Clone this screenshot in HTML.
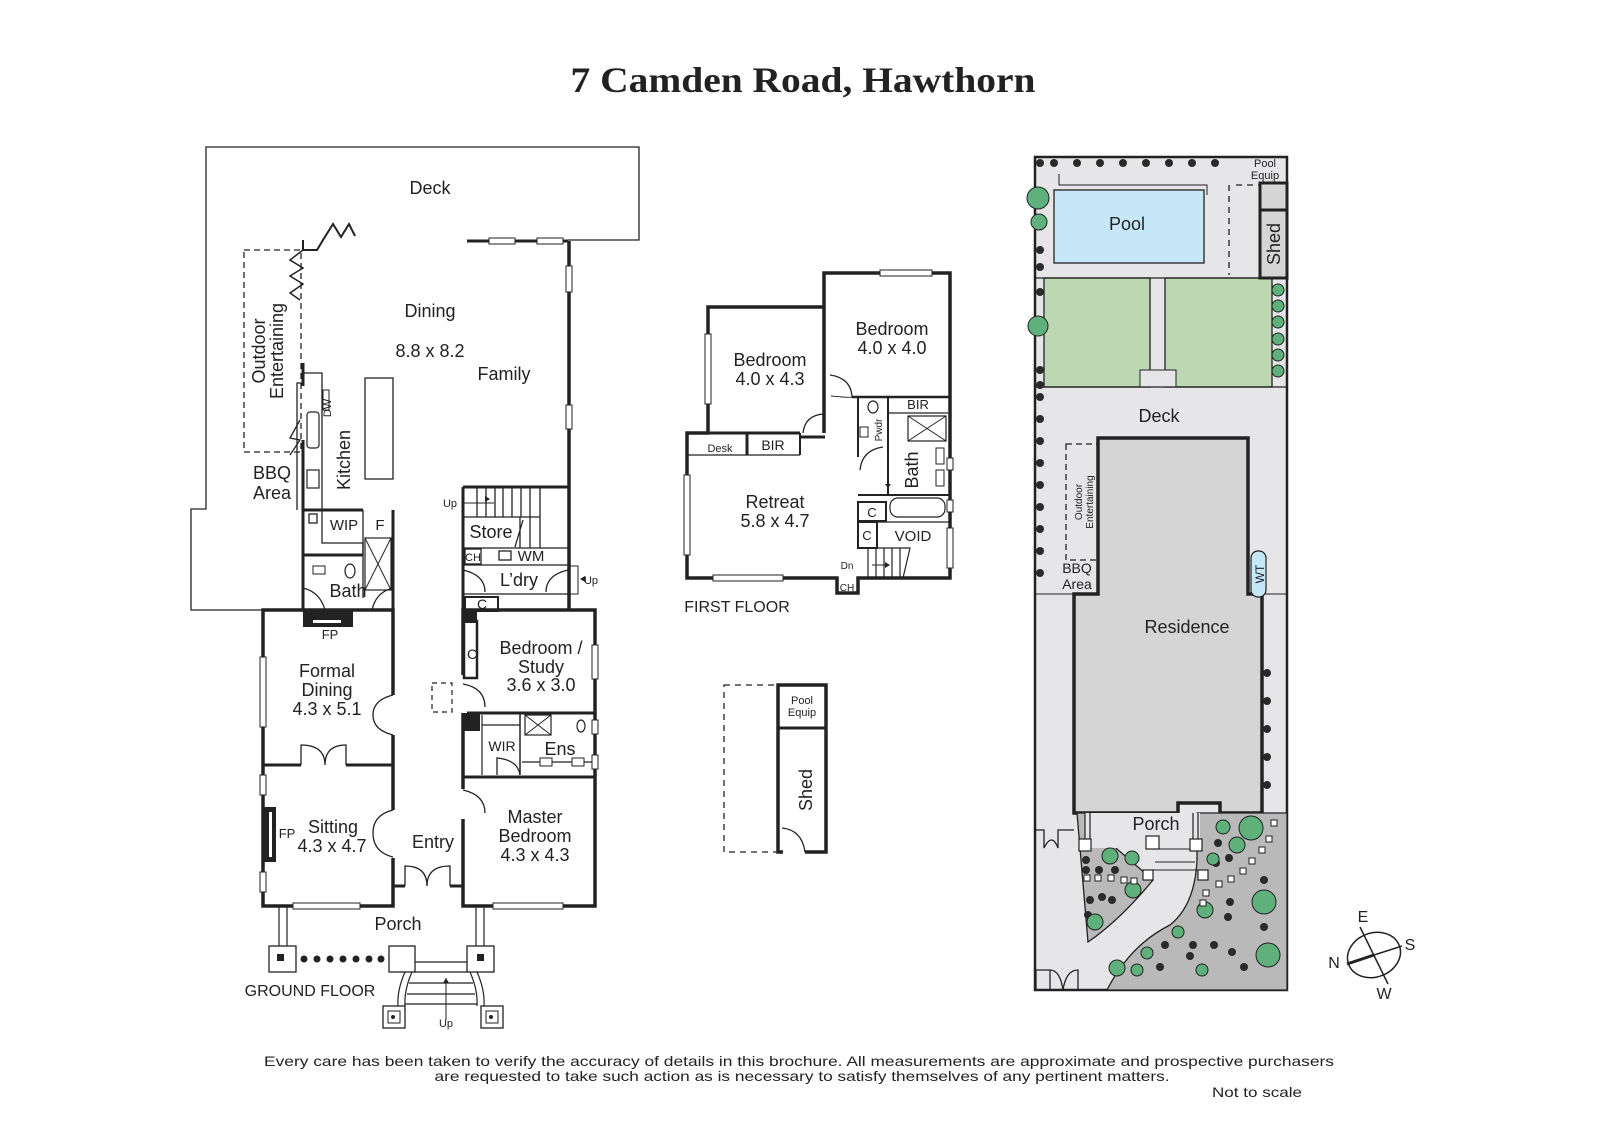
<!DOCTYPE html>
<html><head><meta charset="utf-8"><style>
html,body{margin:0;padding:0;background:#fff;}
svg{display:block;}
text{font-family:"Liberation Sans",sans-serif;fill:#222;}
</style></head><body>
<svg width="1600" height="1131" viewBox="0 0 1600 1131" xmlns="http://www.w3.org/2000/svg">
<!-- Title -->
<text x="803" y="92" text-anchor="middle" style="font-family:'Liberation Serif',serif;font-weight:bold;font-size:36px" textLength="465" lengthAdjust="spacingAndGlyphs">7 Camden Road, Hawthorn</text>

<!-- ================= GROUND FLOOR ================= -->
<g fill="none" stroke="#222">
<!-- deck outline -->
<polyline points="568,240 639,240 639,147 206,147 206,509 191,509 191,610 262,610" stroke-width="1.3"/>
<!-- zigzags -->
<polyline points="303,240 303,250 317,250 323,240 333,224 341,237 349,224 355,236" stroke-width="2"/>
<polyline points="303,250 290,260 303,268 290,276 303,284 290,293 300,300" stroke-width="1.5"/>
<polyline points="300,420 290,438 300,440 290,455" stroke-width="1.3"/>
<!-- dashed outdoor -->
<rect x="244" y="250" width="57" height="202" stroke-dasharray="6,4" stroke-width="1.3"/>
<!-- top window wall -->
<line x1="467" y1="241" x2="568" y2="241" stroke-width="3"/>
<rect x="489" y="238" width="26" height="6" fill="#fff" stroke-width="1"/>
<rect x="537" y="238" width="26" height="6" fill="#fff" stroke-width="1"/>
<!-- family right wall -->
<line x1="569" y1="241" x2="569" y2="610" stroke-width="3.5"/>
<rect x="566" y="266" width="6" height="26" fill="#fff" stroke-width="1"/>
<rect x="566" y="405" width="6" height="24" fill="#fff" stroke-width="1"/>
<!-- kitchen -->
<line x1="303" y1="363" x2="303" y2="386" stroke-width="3"/>
<polyline points="303,373 322,373 322,510" stroke-width="1.3"/>
<polyline points="303,383 297,383 297,510" stroke-width="1.3"/>
<line x1="303" y1="440" x2="303" y2="610" stroke-width="3"/>
<rect x="323" y="390" width="6" height="20" stroke-width="1"/>
<rect x="307" y="412" width="12" height="36" rx="3" stroke-width="1.2"/>
<rect x="307" y="470" width="12" height="18" stroke-width="1.2"/>
<rect x="365" y="378" width="28" height="101" stroke-width="1.3"/>
<!-- WIP / F / bath -->
<line x1="303" y1="510" x2="363" y2="510" stroke-width="3"/>
<polyline points="322,510 322,543 363,543 363,555" stroke-width="1.3"/>
<line x1="303" y1="555" x2="363" y2="555" stroke-width="3"/>
<line x1="363" y1="510" x2="363" y2="598" stroke-width="1.3"/>
<line x1="393" y1="510" x2="393" y2="610" stroke-width="3"/>
<rect x="365" y="538" width="26" height="52" stroke-width="1.2"/>
<path d="M365,538 L391,590 M391,538 L365,590" stroke-width="1"/>
<rect x="309" y="514" width="8" height="9" stroke-width="1.3"/>
<rect x="313" y="566" width="12" height="8" stroke-width="1"/>
<ellipse cx="350" cy="571" rx="5" ry="7" stroke-width="1.2"/>
<path d="M303,588 Q320,592 325,610" stroke-width="1.2"/>
<path d="M393,588 Q376,592 372,610" stroke-width="1.2"/>
<!-- Formal dining / sitting -->
<rect x="263" y="610" width="130" height="296" stroke-width="3.5"/>
<line x1="263" y1="765" x2="301" y2="765" stroke-width="3"/>
<line x1="346" y1="765" x2="393" y2="765" stroke-width="3"/>
<path d="M301,765 V745 Q325,745 325,765 M346,765 V745 Q325,745 325,765" stroke-width="1.3"/>
<rect x="389" y="695" width="8" height="40" fill="#fff" stroke="none"/>
<path d="M393,695 Q373,700 373,715 Q373,730 393,735" stroke-width="1.3"/>
<rect x="389" y="810" width="8" height="48" fill="#fff" stroke="none"/>
<path d="M393,810 Q373,815 373,833 Q373,852 393,857" stroke-width="1.3"/>
<rect x="260" y="657" width="6" height="70" fill="#fff" stroke-width="1"/>
<rect x="260" y="775" width="6" height="20" fill="#fff" stroke-width="1"/>
<rect x="260" y="872" width="6" height="20" fill="#fff" stroke-width="1"/>
<rect x="293" y="903" width="67" height="6" fill="#fff" stroke-width="1"/>
<!-- Right block -->
<rect x="463" y="610" width="132" height="296" stroke-width="3.5"/>
<line x1="463" y1="713" x2="595" y2="713" stroke-width="3"/>
<line x1="463" y1="777" x2="595" y2="777" stroke-width="3"/>
<rect x="459" y="675" width="8" height="38" fill="#fff" stroke="none"/>
<path d="M463,684 Q485,688 485,707" stroke-width="1.3"/>
<rect x="459" y="789" width="8" height="30" fill="#fff" stroke="none"/>
<path d="M463,790 Q485,795 485,813" stroke-width="1.3"/>
<rect x="464" y="621" width="13" height="57" stroke-width="2.5"/>
<line x1="482" y1="715" x2="482" y2="775" stroke-width="1.2"/>
<line x1="482" y1="725" x2="520" y2="725" stroke-width="1.2"/>
<path d="M497,775 V758 Q518,760 520,775" stroke-width="1.3"/>
<line x1="520" y1="713" x2="520" y2="775" stroke-width="1.5"/>
<rect x="525" y="715" width="26" height="20" stroke-width="1.2"/>
<path d="M525,715 L551,735 M551,715 L525,735" stroke-width="1"/>
<ellipse cx="581" cy="726" rx="4" ry="6" stroke-width="1.2"/>
<line x1="522" y1="762" x2="593" y2="762" stroke-width="1.2"/>
<rect x="540" y="758" width="12" height="8" fill="#fff" stroke-width="1"/>
<rect x="572" y="758" width="12" height="8" fill="#fff" stroke-width="1"/>
<rect x="592" y="645" width="6" height="34" fill="#fff" stroke-width="1"/>
<rect x="592" y="720" width="6" height="14" fill="#fff" stroke-width="1"/>
<rect x="592" y="755" width="6" height="14" fill="#fff" stroke-width="1"/>
<rect x="493" y="903" width="70" height="6" fill="#fff" stroke-width="1"/>
<rect x="432" y="683" width="20" height="29" stroke-dasharray="5,4" stroke-width="1.2"/>
<!-- entry double door -->
<line x1="393" y1="886" x2="405" y2="886" stroke-width="3"/>
<line x1="450" y1="886" x2="463" y2="886" stroke-width="3"/>
<path d="M405,886 V866 Q427,866 427,886 M450,886 V866 Q427,866 427,886" stroke-width="1.3"/>
<!-- stairs / store / laundry -->
<line x1="463" y1="487" x2="568" y2="487" stroke-width="3"/>
<line x1="463" y1="487" x2="463" y2="610" stroke-width="3"/>
<path d="M463,517 H540 M463,548 H568 M463,565 H568 M477,487 V517 M486,487 V517 M495,487 V517 M503,487 V517 M512,487 V517 M521,487 V517 M530,487 V517 M520,517 V548 M530,517 V548 M540,487 V548 M523,520 L515,547" stroke-width="1.3"/>
<line x1="463" y1="503" x2="494" y2="503" stroke-width="1"/>
<rect x="465" y="549" width="16" height="15" stroke-width="1.3"/>
<rect x="499" y="551" width="12" height="9" stroke-width="1.3"/>
<path d="M463,570 Q485,575 485,592" stroke-width="1.3"/>
<path d="M568,570 Q546,575 546,592" stroke-width="1.3"/>
<polyline points="568,566 578,566 578,594 568,594" stroke-width="1"/>
<line x1="464" y1="594" x2="568" y2="594" stroke-width="1.3"/>
<rect x="465" y="597" width="33" height="14" stroke-width="2"/>
<!-- porch -->
<path d="M279,906 V946 M287,906 V946 M476,906 V946 M484,906 V946" stroke-width="1.2"/>
<rect x="269" y="946" width="27" height="26" fill="#fff" stroke-width="1.3"/>
<rect x="389" y="946" width="26" height="26" fill="#fff" stroke-width="1.3"/>
<rect x="467" y="946" width="27" height="26" fill="#fff" stroke-width="1.3"/>
<path d="M415,962 H467 M415,972 H467 M409,983 H473 M407,994 H475 M405,1004 H477" stroke-width="1.2"/>
<path d="M405,972 Q397,990 398,1006 M412,972 Q404,990 405,1006 M477,972 Q485,990 484,1006 M470,972 Q478,990 477,1006" stroke-width="1.2"/>
<rect x="383" y="1006" width="22" height="22" fill="#fff" stroke-width="1.3"/>
<rect x="388" y="1011" width="12" height="12" stroke-width="1"/>
<rect x="481" y="1006" width="22" height="22" fill="#fff" stroke-width="1.3"/>
<rect x="486" y="1011" width="12" height="12" stroke-width="1"/>
<line x1="446" y1="1020" x2="446" y2="978" stroke-width="1"/>
</g>
<g fill="#222">
<rect x="303" y="610" width="50" height="17"/>
<rect x="313" y="620" width="28" height="3" fill="#fff"/>
<rect x="263" y="807" width="13" height="55"/>
<rect x="269" y="812" width="3" height="45" fill="#fff"/>
<rect x="463" y="610" width="14" height="13"/>
<rect x="463" y="713" width="17" height="18"/>
<rect x="277" y="954" width="7" height="7"/>
<rect x="477" y="954" width="7" height="7"/>
<circle cx="393" cy="1017" r="2"/><circle cx="491" cy="1017" r="2"/>
<circle cx="304" cy="959" r="3.5"/><circle cx="317" cy="959" r="3.5"/><circle cx="330" cy="959" r="3.5"/><circle cx="343" cy="959" r="3.5"/><circle cx="356" cy="959" r="3.5"/><circle cx="369" cy="959" r="3.5"/><circle cx="381" cy="959" r="3.5"/>
<path d="M490,499 l-5,-3 v6z M580,579 l5,-3 v6z M446,978 l-3,5 h6z"/>
</g>
<g font-size="18" text-anchor="middle">
<text x="430" y="194">Deck</text>
<text x="430" y="317">Dining</text>
<text x="430" y="357">8.8 x 8.2</text>
<text x="504" y="380">Family</text>
<text x="272" y="479">BBQ</text>
<text x="272" y="499">Area</text>
<text transform="translate(265,351) rotate(-90)">Outdoor</text>
<text transform="translate(283,351) rotate(-90)">Entertaining</text>
<text transform="translate(350,460) rotate(-90)">Kitchen</text>
<text x="344" y="530" font-size="15">WIP</text>
<text x="380" y="530" font-size="15">F</text>
<text x="348" y="597">Bath</text>
<text x="491" y="538">Store</text>
<text x="531" y="561" font-size="15">WM</text>
<text x="473" y="561" font-size="11">CH</text>
<text x="519" y="586">L’dry</text>
<text x="482" y="609" font-size="14">C</text>
<text x="472" y="659" font-size="14">C</text>
<text x="330" y="639" font-size="13">FP</text>
<text x="327" y="677">Formal</text>
<text x="327" y="696">Dining</text>
<text x="327" y="715">4.3 x 5.1</text>
<text x="287" y="838" font-size="13">FP</text>
<text x="333" y="833">Sitting</text>
<text x="332" y="852">4.3 x 4.7</text>
<text x="433" y="848">Entry</text>
<text x="541" y="654">Bedroom /</text>
<text x="541" y="673">Study</text>
<text x="541" y="691">3.6 x 3.0</text>
<text x="502" y="751" font-size="14">WIR</text>
<text x="560" y="755">Ens</text>
<text x="535" y="823">Master</text>
<text x="535" y="842">Bedroom</text>
<text x="535" y="861">4.3 x 4.3</text>
<text x="398" y="930">Porch</text>
<text x="310" y="996" font-size="16">GROUND FLOOR</text>
<text x="446" y="1027" font-size="11">Up</text>
<text x="450" y="507" font-size="11">Up</text>
<text x="591" y="584" font-size="11">Up</text>
<text transform="translate(331,408) rotate(-90)" font-size="11">DW</text>
</g>

<!-- ================= FIRST FLOOR ================= -->
<g fill="none" stroke="#222">
<polyline points="824,433 824,273 950,273 950,578 858,578 858,593 837,593 837,578 687,578 687,433 708,433 708,307 824,307 824,403" stroke-width="3.5"/>
<line x1="687" y1="433" x2="800" y2="433" stroke-width="3"/>
<line x1="687" y1="455" x2="800" y2="455" stroke-width="1.3"/>
<line x1="747" y1="433" x2="747" y2="455" stroke-width="3"/>
<line x1="800" y1="433" x2="800" y2="455" stroke-width="2"/>
<line x1="800" y1="437" x2="825" y2="437" stroke-width="3"/>
<path d="M803,433 Q805,415 824,414" stroke-width="1.3"/>
<path d="M831,396 Q852,398 853,397" stroke-width="1"/>
<path d="M830,375 Q851,378 852,397" stroke-width="1.3"/>
<line x1="852" y1="397" x2="950" y2="397" stroke-width="2.5"/>
<line x1="858" y1="397" x2="858" y2="457" stroke-width="2"/>
<line x1="888" y1="397" x2="888" y2="495" stroke-width="2"/>
<line x1="888" y1="413" x2="948" y2="413" stroke-width="1.3"/>
<rect x="908" y="416" width="38" height="25" stroke-width="1.2"/>
<path d="M908,416 L946,441 M946,416 L908,441" stroke-width="1"/>
<ellipse cx="873" cy="407" rx="5" ry="6" stroke-width="1.2"/>
<rect x="860" y="427" width="8" height="10" stroke-width="1"/>
<path d="M860,470 Q862,450 883,447" stroke-width="1.3"/>
<rect x="936" y="448" width="8" height="16" stroke-width="1"/>
<rect x="936" y="470" width="8" height="16" stroke-width="1"/>
<line x1="858" y1="495" x2="950" y2="495" stroke-width="2"/>
<rect x="890" y="498" width="55" height="19" rx="8" stroke-width="1.2"/>
<rect x="858" y="502" width="28" height="19" stroke-width="2"/>
<line x1="858" y1="522" x2="950" y2="522" stroke-width="1.3"/>
<rect x="858" y="522" width="19" height="26" stroke-width="2"/>
<path d="M858,548 H910 L903,578 M868,548 V578 M876,548 V578 M884,548 V578 M892,548 V578 M900,548 V578" stroke-width="1.2"/>
<rect x="880" y="270" width="52" height="6" fill="#fff" stroke-width="1"/>
<rect x="705" y="334" width="6" height="70" fill="#fff" stroke-width="1"/>
<rect x="684" y="475" width="6" height="80" fill="#fff" stroke-width="1"/>
<rect x="713" y="575" width="70" height="6" fill="#fff" stroke-width="1"/>
<rect x="947" y="458" width="6" height="12" fill="#fff" stroke-width="1"/>
<rect x="947" y="500" width="6" height="12" fill="#fff" stroke-width="1"/>
<rect x="947" y="528" width="6" height="40" fill="#fff" stroke-width="1"/>
<line x1="888" y1="475" x2="888" y2="490" stroke-dasharray="2,2" stroke-width="1"/>
<line x1="872" y1="565" x2="888" y2="565" stroke-width="1"/>
<!-- shed building -->
<rect x="724" y="685" width="54" height="167" stroke-dasharray="6,5" stroke-width="1.3"/>
<polyline points="805,852 826,852 826,685 778,685 778,852 783,852" stroke-width="3.5"/>
<line x1="778" y1="728" x2="826" y2="728" stroke-width="3"/>
<path d="M782,828 Q802,830 805,852" stroke-width="1.3"/>
</g>
<path d="M888,488 l-3,-4 h6z M890,565 l-5,-3 v6z" fill="#222"/>
<g font-size="18" text-anchor="middle">
<text x="770" y="366">Bedroom</text>
<text x="770" y="385">4.0 x 4.3</text>
<text x="892" y="335">Bedroom</text>
<text x="892" y="354">4.0 x 4.0</text>
<text x="775" y="508">Retreat</text>
<text x="775" y="527">5.8 x 4.7</text>
<text x="720" y="452" font-size="11">Desk</text>
<text x="773" y="450" font-size="14">BIR</text>
<text x="918" y="409" font-size="13">BIR</text>
<text transform="translate(918,470) rotate(-90)">Bath</text>
<text transform="translate(882,430) rotate(-90)" font-size="10">Pwdr</text>
<text x="872" y="517" font-size="13">C</text>
<text x="867" y="540" font-size="13">C</text>
<text x="913" y="541" font-size="15">VOID</text>
<text x="847" y="569" font-size="10">Dn</text>
<text x="847" y="591" font-size="10">CH</text>
<text x="737" y="612" font-size="16">FIRST FLOOR</text>
<text x="802" y="704" font-size="11">Pool</text>
<text x="802" y="716" font-size="11">Equip</text>
<text transform="translate(812,790) rotate(-90)">Shed</text>
</g>

<!-- ================= SITE PLAN ================= -->
<g stroke="#222">
<rect x="1035" y="157" width="252" height="833" fill="#e6e6e8" stroke-width="2.5"/>
<rect x="1044" y="278" width="106" height="109" fill="#bcd7b1" stroke-width="1.3"/>
<rect x="1165" y="278" width="107" height="109" fill="#bcd7b1" stroke-width="1.3"/>
<rect x="1140" y="370" width="36" height="17" fill="#e6e6e8" stroke-width="1"/>
<line x1="1036" y1="387" x2="1287" y2="387" stroke-width="1.3"/>
<rect x="1054" y="190" width="150" height="73" fill="#c6e7f7" stroke-width="1.3"/>
<polyline points="1059,174 1059,185 1207,185 1207,195" fill="none" stroke-width="1"/>
<line x1="1036" y1="278" x2="1287" y2="278" stroke-width="1.3"/>
<rect x="1260" y="183" width="27" height="95" fill="#d5d5d5" stroke-width="3"/>
<line x1="1260" y1="210" x2="1287" y2="210" stroke-width="3"/>
<line x1="1229" y1="185" x2="1229" y2="275" stroke-dasharray="6,5" stroke-width="1.3"/>
<line x1="1236" y1="185" x2="1260" y2="185" stroke-dasharray="6,5" stroke-width="1.3"/>
<line x1="1036" y1="594" x2="1074" y2="594" stroke-width="1"/>
<line x1="1248" y1="594" x2="1287" y2="594" stroke-width="1"/>
<!-- residence -->
<path d="M1098,438 H1248 V594 H1262 V813 H1220 V803 H1178 V813 H1074 V594 H1098 Z" fill="#d5d5d5" stroke-width="3.5"/>
<rect x="1066" y="444" width="32" height="116" fill="none" stroke-dasharray="6,4" stroke-width="1.3"/>
<rect x="1251" y="551" width="15" height="46" rx="7" fill="#c6e7f7" stroke-width="1.2"/>
<!-- gardens -->
<path d="M1077,813 H1095 V830 L1153,880 Q1120,920 1088,942 Z" fill="#b9b9b9" stroke-width="1.3"/>
<path d="M1197,813 H1287 V990 H1107 Q1130,945 1170,925 Q1195,905 1197,860 Z" fill="#b9b9b9" stroke-width="1.3"/>
<rect x="1085" y="813" width="115" height="35" fill="#e6e6e8" stroke="none"/>
<path d="M1085,813 V850 M1090,813 V850 M1193,813 V850 M1198,813 V850" stroke-width="1.2"/>
<rect x="1079" y="839" width="12" height="12" fill="#fff" stroke-width="1.2"/>
<rect x="1146" y="836" width="13" height="13" fill="#fff" stroke-width="1.2"/>
<rect x="1190" y="839" width="12" height="12" fill="#fff" stroke-width="1.2"/>
<rect x="1143" y="870" width="10" height="10" fill="#fff" stroke-width="1.2"/>
<rect x="1198" y="870" width="10" height="10" fill="#fff" stroke-width="1.2"/>
<path d="M1159,849 H1190 M1155,862 H1195 M1153,870 H1198" stroke-width="1" fill="none"/>
<path d="M1036,830 H1044 V848 Q1052,832 1058,848 V830 H1074 M1036,990 V970 H1050 V990 M1050,970 Q1060,970 1063,990 Q1066,970 1078,970 V990" fill="none" stroke-width="1.3"/>
</g>
<g fill="#2a2a2a">
<circle cx="1040" cy="163" r="4"/><circle cx="1054" cy="163" r="4"/><circle cx="1077" cy="163" r="4"/><circle cx="1100" cy="163" r="4"/><circle cx="1123" cy="163" r="4"/><circle cx="1146" cy="163" r="4"/><circle cx="1169" cy="163" r="4"/><circle cx="1192" cy="163" r="4"/><circle cx="1215" cy="163" r="4"/>
<circle cx="1040" cy="250" r="4"/><circle cx="1040" cy="267" r="4"/><circle cx="1040" cy="292" r="4"/><circle cx="1040" cy="370" r="4"/><circle cx="1040" cy="385" r="4"/><circle cx="1040" cy="397" r="4"/><circle cx="1040" cy="419" r="4"/><circle cx="1040" cy="441" r="4"/><circle cx="1040" cy="463" r="4"/><circle cx="1040" cy="485" r="4"/><circle cx="1040" cy="507" r="4"/><circle cx="1040" cy="529" r="4"/><circle cx="1040" cy="551" r="4"/><circle cx="1040" cy="573" r="4"/>
<circle cx="1267" cy="673" r="4"/><circle cx="1267" cy="701" r="4"/><circle cx="1267" cy="729" r="4"/><circle cx="1267" cy="757" r="4"/><circle cx="1267" cy="785" r="4"/>
<circle cx="1086" cy="860" r="4"/><circle cx="1086" cy="870" r="4"/><circle cx="1099" cy="870" r="4"/><circle cx="1115" cy="870" r="4"/><circle cx="1090" cy="900" r="4"/><circle cx="1102" cy="897" r="4"/><circle cx="1112" cy="900" r="4"/><circle cx="1088" cy="915" r="4"/>
<circle cx="1218" cy="843" r="4"/><circle cx="1229" cy="858" r="4"/><circle cx="1216" cy="863" r="4"/><circle cx="1264" cy="880" r="4"/><circle cx="1230" cy="902" r="4"/><circle cx="1228" cy="917" r="4"/><circle cx="1264" cy="927" r="4"/><circle cx="1193" cy="945" r="4"/><circle cx="1214" cy="945" r="4"/><circle cx="1190" cy="956" r="4"/><circle cx="1232" cy="952" r="4"/><circle cx="1160" cy="967" r="4"/><circle cx="1244" cy="967" r="4"/><circle cx="1165" cy="945" r="4"/>
</g>
<g fill="#5fb07a" stroke="#222" stroke-width="1">
<circle cx="1038" cy="198" r="11"/><circle cx="1039" cy="222" r="8"/><circle cx="1038" cy="326" r="10"/>
<circle cx="1278" cy="290" r="6"/><circle cx="1278" cy="306" r="6"/><circle cx="1278" cy="322" r="6"/><circle cx="1278" cy="339" r="6"/><circle cx="1278" cy="355" r="6"/><circle cx="1278" cy="371" r="6"/>
<circle cx="1110" cy="856" r="8"/><circle cx="1132" cy="858" r="7"/><circle cx="1133" cy="890" r="8"/><circle cx="1095" cy="922" r="8"/>
<circle cx="1223" cy="827" r="7"/><circle cx="1251" cy="828" r="12"/><circle cx="1237" cy="845" r="8"/><circle cx="1213" cy="859" r="6"/><circle cx="1264" cy="902" r="12"/><circle cx="1205" cy="910" r="8"/><circle cx="1178" cy="932" r="6"/><circle cx="1268" cy="955" r="12"/><circle cx="1147" cy="953" r="6"/><circle cx="1202" cy="970" r="6"/><circle cx="1117" cy="968" r="8"/><circle cx="1137" cy="970" r="6"/>
</g>
<g fill="#fff" stroke="#222" stroke-width="1">
<rect x="1271" y="820" width="6" height="6"/><rect x="1266" y="836" width="6" height="6"/><rect x="1259" y="847" width="6" height="6"/><rect x="1249" y="858" width="6" height="6"/><rect x="1240" y="868" width="6" height="6"/><rect x="1228" y="876" width="6" height="6"/><rect x="1216" y="881" width="6" height="6"/><rect x="1203" y="890" width="6" height="6"/><rect x="1200" y="900" width="6" height="6"/><rect x="1084" y="875" width="6" height="6"/><rect x="1095" y="875" width="6" height="6"/><rect x="1108" y="875" width="6" height="6"/><rect x="1121" y="877" width="6" height="6"/><rect x="1131" y="878" width="6" height="6"/>
</g>
<g font-size="18" text-anchor="middle">
<text x="1127" y="230">Pool</text>
<text x="1265" y="167" font-size="11">Pool</text>
<text x="1265" y="179" font-size="11">Equip</text>
<text transform="translate(1280,244) rotate(-90)">Shed</text>
<text x="1159" y="422">Deck</text>
<text x="1187" y="633">Residence</text>
<text x="1156" y="830">Porch</text>
<text x="1077" y="573" font-size="14">BBQ</text>
<text x="1077" y="589" font-size="14">Area</text>
<text transform="translate(1082,502) rotate(-90)" font-size="10">Outdoor</text>
<text transform="translate(1093,502) rotate(-90)" font-size="10">Entertaining</text>
<text transform="translate(1264,574) rotate(-90)" font-size="12">WT</text>
</g>
<!-- compass -->
<g fill="none" stroke="#222" stroke-width="1.5">
<ellipse cx="1374" cy="955" rx="27" ry="22" transform="rotate(-20 1374 955)"/>
<line x1="1360" y1="927" x2="1388" y2="984"/>
<line x1="1347" y1="964" x2="1374" y2="955" stroke-width="3"/>
<line x1="1374" y1="955" x2="1402" y2="946"/>
</g>
<g font-size="16" text-anchor="middle">
<text x="1363" y="922">E</text>
<text x="1410" y="950">S</text>
<text x="1334" y="968">N</text>
<text x="1384" y="999">W</text>
</g>
<!-- footer -->
<g font-size="14" text-anchor="middle">
<text x="799" y="1066" textLength="1070" lengthAdjust="spacingAndGlyphs">Every care has been taken to verify the accuracy of details in this brochure.  All measurements are approximate and prospective purchasers</text>
<text x="802" y="1081" textLength="735" lengthAdjust="spacingAndGlyphs">are requested to take such action as is necessary to satisfy themselves of any pertinent matters.</text>
<text x="1257" y="1097" textLength="90" lengthAdjust="spacingAndGlyphs">Not to scale</text>
</g>
</svg>
</body></html>
